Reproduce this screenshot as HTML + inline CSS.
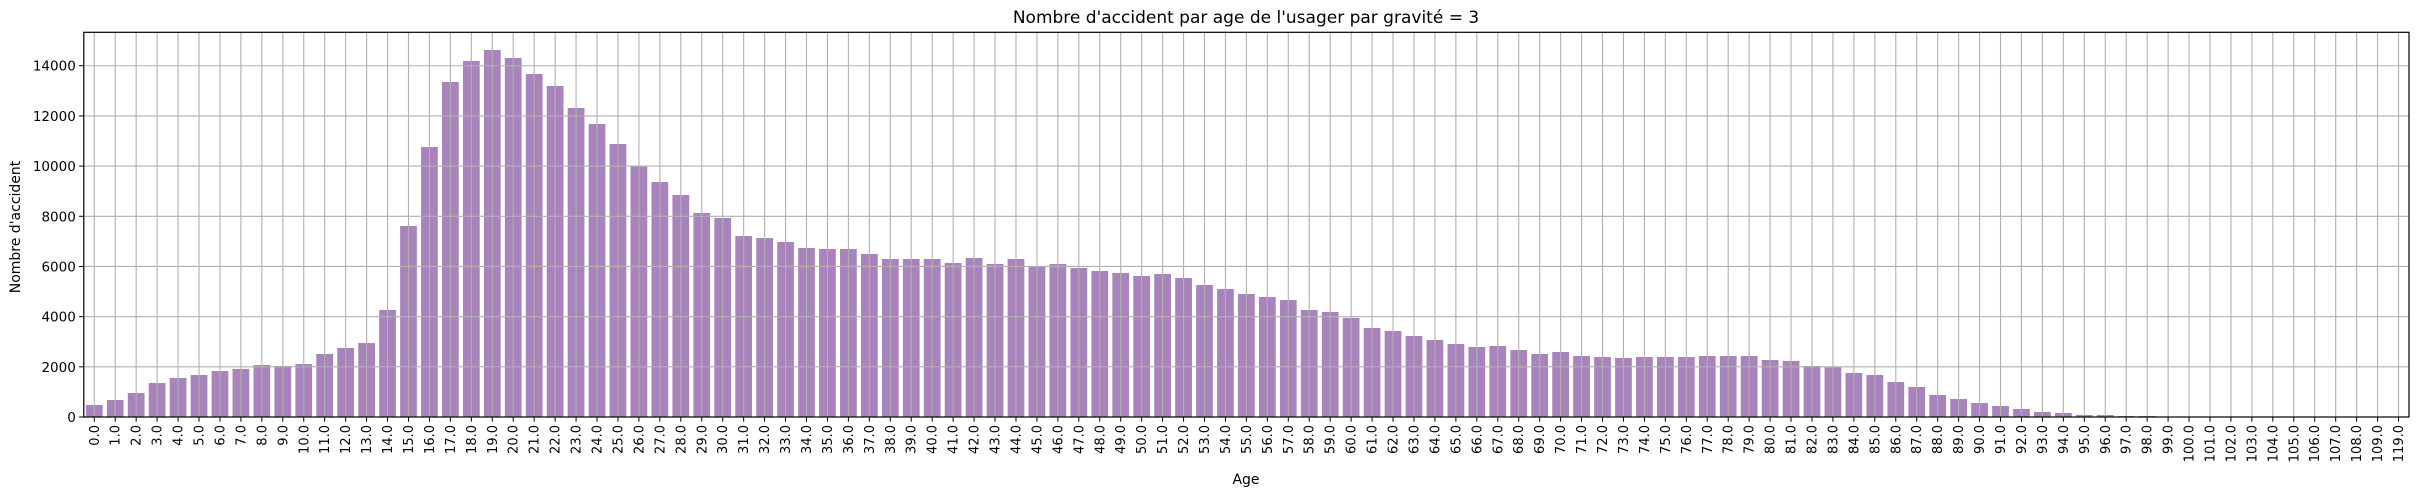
<!DOCTYPE html>
<html><head><meta charset="utf-8"><style>
html,body{margin:0;padding:0;background:#fff;}
svg{display:block;font-family:"DejaVu Sans","Liberation Sans",sans-serif;}
</style></head><body>
<svg id="chart" width="2418" height="496" viewBox="0 0 2418 496" xmlns="http://www.w3.org/2000/svg">
<rect x="0" y="0" width="2418" height="496" fill="#fff"/>
<text x="1246" y="23" text-anchor="middle" font-size="17" fill="#000">Nombre d'accident par age de l'usager par gravité = 3</text>
<text x="1246" y="484" text-anchor="middle" font-size="14" fill="#000">Age</text>
<text transform="translate(20,227) rotate(-90)" text-anchor="middle" font-size="14" fill="#000">Nombre d'accident</text>
<g id="grid"></g>
<g id="bars"></g>
<g id="axes"></g>
</svg>
<script>
const categories = ["0.0","1.0","2.0","3.0","4.0","5.0","6.0","7.0","8.0","9.0","10.0","11.0","12.0","13.0","14.0","15.0","16.0","17.0","18.0","19.0","20.0","21.0","22.0","23.0","24.0","25.0","26.0","27.0","28.0","29.0","30.0","31.0","32.0","33.0","34.0","35.0","36.0","37.0","38.0","39.0","40.0","41.0","42.0","43.0","44.0","45.0","46.0","47.0","48.0","49.0","50.0","51.0","52.0","53.0","54.0","55.0","56.0","57.0","58.0","59.0","60.0","61.0","62.0","63.0","64.0","65.0","66.0","67.0","68.0","69.0","70.0","71.0","72.0","73.0","74.0","75.0","76.0","77.0","78.0","79.0","80.0","81.0","82.0","83.0","84.0","85.0","86.0","87.0","88.0","89.0","90.0","91.0","92.0","93.0","94.0","95.0","96.0","97.0","98.0","99.0","100.0","101.0","102.0","103.0","104.0","105.0","106.0","107.0","108.0","109.0","119.0"];
const counts = [478,678,957,1355,1554,1674,1833,1913,2072,2033,2112,2511,2750,2949,4265,7612,10761,13352,14189,14627,14309,13671,13193,12316,11678,10881,10017,9366,8848,8131,7931,7214,7134,6975,6736,6696,6696,6497,6297,6297,6297,6138,6337,6098,6297,5991,6098,5939,5819,5739,5620,5699,5540,5261,5102,4902,4783,4663,4265,4185,3946,3547,3428,3228,3069,2909,2790,2830,2670,2511,2591,2431,2391,2352,2391,2391,2391,2431,2431,2431,2272,2232,2033,1980,1754,1674,1395,1196,877,717,558,438,319,199,159,80,80,40,40,8,4,3,2,2,1,1,1,1,1,1,1];
const yTicks = [0,2000,4000,6000,8000,10000,12000,14000];
const yMax = 15333;

const NS = "http://www.w3.org/2000/svg";
const L = 83.8, R = 2409, T = 32.3, B = 417;
const n = categories.length;
const step = (R - L) / n;
function xScale(i){ return L + step * (i + 0.5); }
function yScale(v){ return B - (v / yMax) * (B - T); }
function mk(tag, attrs, parent){ const e = document.createElementNS(NS, tag); for (const k in attrs) e.setAttribute(k, attrs[k]); parent.appendChild(e); return e; }

const grid = document.getElementById('grid');
const bars = document.getElementById('bars');
const axes = document.getElementById('axes');

yTicks.forEach(function(t){
  const y = yScale(t);
  const g = mk('line', {x1:L, x2:R, y1:y, y2:y, stroke:'#b0b0b0', 'stroke-width':1.1}, grid);
  
  
  const tk = mk('line', {x1:L-4.7, x2:L, y1:y, y2:y, stroke:'#000', 'stroke-width':1}, axes);
  
  
  const lb = mk('text', {x:L-8, y:y+5, 'text-anchor':'end', 'font-size':13.5, fill:'#000'}, axes);
  lb.textContent = t;
  
  
});

categories.forEach(function(c, i){
  const x = xScale(i);
  const g = mk('line', {x1:x, x2:x, y1:T, y2:B, stroke:'#b0b0b0', 'stroke-width':1.1}, grid);
  
  
  const w = step * 0.8;
  const y = yScale(counts[i]);
  const b = mk('rect', {x:x - w/2, y:y, width:w, height:B - y, fill:'#a984bc'}, bars);
  
  
  const tk = mk('line', {x1:x, x2:x, y1:B, y2:B+4.7, stroke:'#000', 'stroke-width':1}, axes);
  
  
  const lb = mk('text', {transform:'translate(' + (x+4.5) + ',' + (B+8) + ') rotate(-90)', 'text-anchor':'end', 'font-size':13, fill:'#000'}, axes);
  lb.textContent = c;
  
  
});

// draw grid above bars like matplotlib (grid visible over bars)
const svg = document.getElementById('chart');
svg.insertBefore(bars, grid);

const frame = mk('rect', {x:L, y:T, width:R-L, height:B-T, fill:'none', stroke:'#000', 'stroke-width':1.2}, axes);


</script>
</body></html>
